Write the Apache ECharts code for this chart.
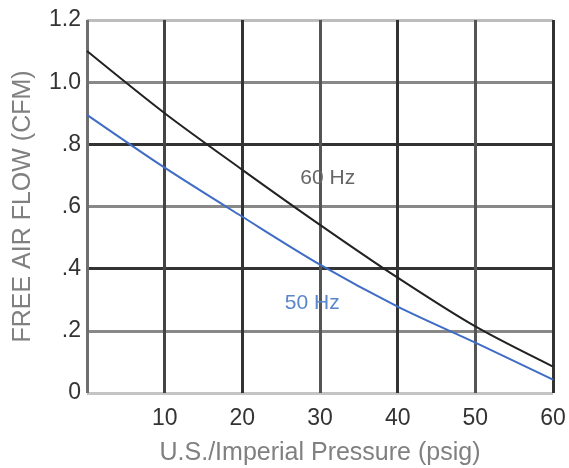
<!DOCTYPE html>
<html><head><meta charset="utf-8">
<script src="https://cdn.jsdelivr.net/npm/echarts@6/dist/echarts.min.js"></script>
<style>html,body{margin:0;padding:0;background:#fff}#c{width:569px;height:468px}</style>
</head><body><div id="c"></div>
<script>
const pressure = [0, 10, 20, 30, 40, 50, 60];
const flow60Hz = [1.10, 0.90, 0.718, 0.541, 0.371, 0.214, 0.085];
const flow50Hz = [0.895, 0.725, 0.567, 0.413, 0.278, 0.162, 0.043];
const yTickLabels = {0: '0', 0.2: '.2', 0.4: '.4', 0.6: '.6', 0.8: '.8', 1: '1.0', 1.2: '1.2'};
const label60 = {text: '60 Hz', x: 31, y: 0.69};
const label50 = {text: '50 Hz', x: 29, y: 0.29};

const chart = echarts.init(document.getElementById('c'));
const font = 'Liberation Sans, Arial, sans-serif';
function pairs(xs, ys){ return xs.map((x,i)=>[x, ys[i]]); }
chart.setOption({
  animation: false,
  grid: {left: 87, right: 16, top: 20, bottom: 75, outerBoundsMode: 'none', containLabel: false},
  xAxis: {
    type: 'value', min: 0, max: 60, interval: 10,
    axisLine: {show: false}, axisTick: {show: false},
    axisLabel: {fontFamily: font, fontSize: 23, color: '#333', margin: 14,
      formatter: v => v === 0 ? '' : String(v)},
    splitLine: {show: true, lineStyle: {width: 3,
      color: ['#6e6e6e', '#444', '#333', '#555', '#333', '#555', '#333']}},
    name: 'U.S./Imperial Pressure (psig)', nameLocation: 'middle', nameGap: 48,
    nameTextStyle: {fontFamily: font, fontSize: 25, color: '#808080'}
  },
  yAxis: {
    type: 'value', min: 0, max: 1.2, interval: 0.2,
    axisLine: {show: false}, axisTick: {show: false},
    axisLabel: {fontFamily: font, fontSize: 23, color: '#333', margin: 6,
      formatter: v => yTickLabels[Math.round(v*10)/10] ?? ''},
    splitLine: {show: true, lineStyle: {width: 3,
      color: ['#c4c4c4', '#888', '#333', '#888', '#333', '#888', '#bdbdbd']}},
    name: 'FREE AIR FLOW (CFM)', nameLocation: 'middle', nameGap: 51, nameRotate: 90,
    nameTextStyle: {fontFamily: font, fontSize: 25, color: '#808080'}
  },
  series: [
    {type: 'line', data: pairs(pressure, flow60Hz), smooth: 0.3, symbol: 'none',
     lineStyle: {color: '#222', width: 2},
     markPoint: {symbol: 'circle', symbolSize: 0, data: [{coord: [label60.x, label60.y]}],
       label: {show: true, formatter: label60.text, fontFamily: font, fontSize: 21, color: '#666'}}},
    {type: 'line', data: pairs(pressure, flow50Hz), smooth: 0.3, symbol: 'none',
     lineStyle: {color: '#3f6cc4', width: 2},
     markPoint: {symbol: 'circle', symbolSize: 0, data: [{coord: [label50.x, label50.y]}],
       label: {show: true, formatter: label50.text, fontFamily: font, fontSize: 21, color: '#5b86cc'}}}
  ]
});
</script></body></html>
